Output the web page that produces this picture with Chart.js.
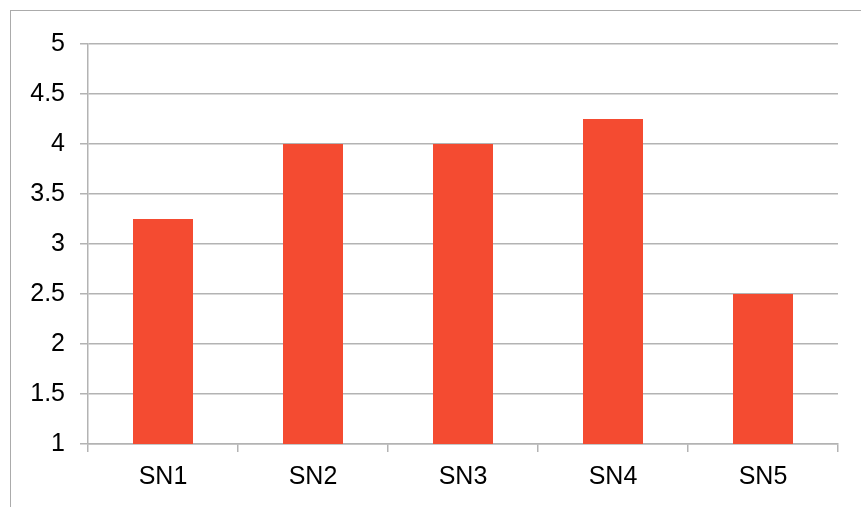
<!DOCTYPE html>
<html>
<head>
<meta charset="utf-8">
<script src="https://cdn.jsdelivr.net/npm/chart.js@4"></script>
<style>
  html, body { margin: 0; padding: 0; background: #fff; }
  #wrap { position: relative; width: 861px; height: 507px; }
  #frame {
    position: absolute; left: 10px; top: 10px; right: 0; bottom: 0;
    border-left: 1.5px solid #ababab; border-top: 1.5px solid #ababab;
  }
  canvas { position: absolute; left: 0; top: 0; }
</style>
</head>
<body>
<div id="wrap">
  <div id="frame"></div>
  <canvas id="myChart" width="861" height="507"></canvas>
</div>
<script>
var categories = ['SN1', 'SN2', 'SN3', 'SN4', 'SN5'];
var scores = [3.25, 4, 4, 4.25, 2.5];
var yMin = 1;
var yMax = 5;
var yStep = 0.5;

var gridColor = '#b3b3b3';
var font = { family: 'Liberation Sans, Arial, sans-serif', size: 25 };

var ctx = document.getElementById('myChart').getContext('2d');
var chart = new Chart(ctx, {
    type: 'bar',

    data: {
        labels: categories,
        datasets: [{
            data: scores,
            backgroundColor: '#f44b31',
            borderWidth: 0,
            barPercentage: 0.4,
            categoryPercentage: 1
        }]
    },

    options: {
        responsive: false,
        animation: false,
        devicePixelRatio: 1,
        layout: { padding: { left: 0, right: 23, top: 44, bottom: 0 } },
        plugins: {
            legend: { display: false },
            tooltip: { enabled: false }
        },
        scales: {
            x: {
                offset: true,
                grid: {
                    offset: true,
                    drawOnChartArea: false,
                    color: gridColor,
                    lineWidth: 1.5,
                    tickLength: 8
                },
                border: { color: gridColor, width: 1.5 },
                ticks: { color: '#000', font: font, padding: 10, maxRotation: 0 },
                afterFit: function (scale) { scale.height = 63; }
            },
            y: {
                min: yMin,
                max: yMax,
                grid: {
                    color: gridColor,
                    lineWidth: 1.5,
                    tickLength: 8
                },
                border: { color: gridColor, width: 1.5 },
                ticks: {
                    stepSize: yStep,
                    color: '#000',
                    font: font,
                    padding: 15,
                    // plain numbers: 5, 4.5, 4 ...
                    callback: function (value) { return String(value); }
                },
                afterFit: function (scale) { scale.width = 88; }
            }
        }
    }
});
</script>
</body>
</html>
